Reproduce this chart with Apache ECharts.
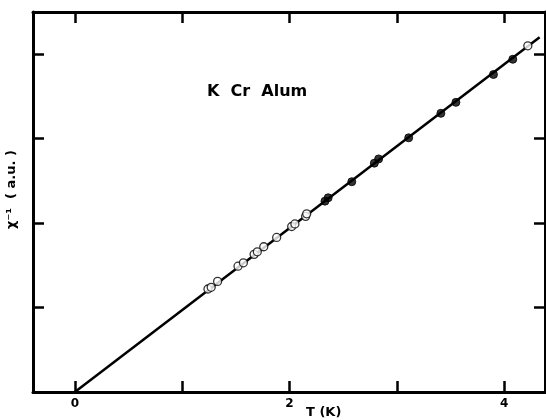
<!DOCTYPE html>
<html>
<head>
<meta charset="utf-8">
<script src="https://cdn.jsdelivr.net/npm/echarts@6/dist/echarts.min.js"></script>
<style>html,body{margin:0;padding:0;background:#fff}#c{width:546px;height:420px}</style>
</head>
<body>
<div id="c"></div>
<script>
// T (K) and inverse susceptibility (a.u.)
var openT = [1.24, 1.27, 1.33, 1.52, 1.57, 1.67, 1.70, 1.76, 1.88, 2.02, 2.05, 2.15, 2.16, 4.22];
var openY = [1.22, 1.24, 1.31, 1.49, 1.53, 1.63, 1.66, 1.72, 1.83, 1.96, 1.99, 2.08, 2.11, 4.10];
var filledT = [2.33, 2.36, 2.58, 2.79, 2.83, 3.11, 3.41, 3.55, 3.90, 4.08];
var filledY = [2.26, 2.30, 2.49, 2.71, 2.76, 3.01, 3.30, 3.43, 3.76, 3.94];
var fitT = [0, 4.33];
var fitY = [0, 4.20];
var xTicks = [0, 1, 2, 3, 4];
var xLabels = [0, 2, 4];
var yTicks = [1, 2, 3, 4];

function zip(a, b) { return a.map(function (v, i) { return [v, b[i]]; }); }

var chart = echarts.init(document.getElementById('c'));
var axisLine = { show: true, onZero: false, lineStyle: { color: '#000', width: 3 } };
var tick = { show: true, inside: true, length: 11, lineStyle: { color: '#000', width: 2.5 } };
var font = '"DejaVu Sans", Arial, sans-serif';
chart.setOption({
  animation: false,
  backgroundColor: '#fff',
  grid: { left: 33, right: 1, top: 12, bottom: 28, containLabel: false },
  xAxis: [
    { type: 'value', min: -0.39, max: 4.38, position: 'bottom',
      axisLine: axisLine, axisTick: Object.assign({ customValues: xTicks }, tick),
      axisLabel: { customValues: xLabels, color: '#000', fontWeight: 'bold', fontSize: 12, fontFamily: font, margin: 6 },
      splitLine: { show: false } },
    { type: 'value', min: -0.39, max: 4.38, position: 'top',
      axisLine: axisLine, axisTick: Object.assign({ customValues: xTicks }, tick),
      axisLabel: { show: false }, splitLine: { show: false } }
  ],
  yAxis: [
    { type: 'value', min: 0, max: 4.5, position: 'left',
      axisLine: axisLine, axisTick: Object.assign({ customValues: yTicks }, tick),
      axisLabel: { show: false }, splitLine: { show: false } },
    { type: 'value', min: 0, max: 4.5, position: 'right',
      axisLine: axisLine, axisTick: Object.assign({ customValues: yTicks }, tick),
      axisLabel: { show: false }, splitLine: { show: false } }
  ],
  graphic: [
    { type: 'text', left: 207, top: 84, style: { text: 'K  Cr  Alum', fill: '#000', font: 'bold 16px ' + font } },
    { type: 'text', x: 306, y: 406, style: { text: 'T (K)', fill: '#000', font: 'bold 13px ' + font } },
    { type: 'text', x: 5, y: 229, rotation: Math.PI / 2,
      style: { text: 'χ⁻¹  ( a.u. )', fill: '#000', font: 'bold 13px ' + font } }
  ],
  series: [
    { type: 'line', data: zip(fitT, fitY), symbol: 'none', lineStyle: { color: '#000', width: 2.5 }, z: 1 },
    { type: 'scatter', data: zip(filledT, filledY), symbol: 'circle', symbolSize: 8,
      itemStyle: { color: '#000', borderColor: '#000', borderWidth: 1 }, z: 3 },
    { type: 'scatter', data: zip(openT, openY), symbol: 'circle', symbolSize: 8,
      itemStyle: { color: '#fff', borderColor: '#000', borderWidth: 1.3 }, z: 3 }
  ]
});
</script>
</body>
</html>
